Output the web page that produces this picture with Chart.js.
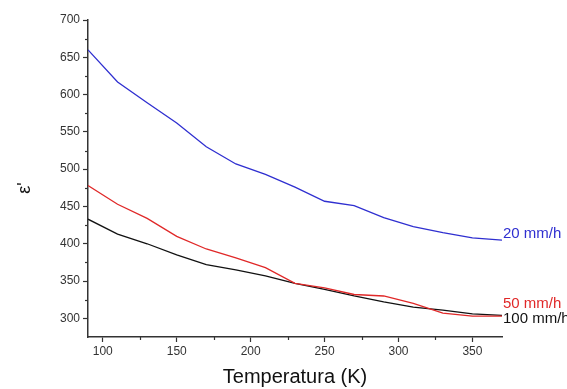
<!DOCTYPE html>
<html><head><meta charset="utf-8">
<script src="https://cdn.jsdelivr.net/npm/chart.js@4"></script>
<style>html,body{margin:0;padding:0;background:#fff;overflow:hidden}#w{width:567px;height:389px}</style>
</head><body><div id="w"><canvas id="c"></canvas></div>
<script>
const temps = [90,110,130,150,170,190,210,230,250,270,290,310,330,350,370];
const eps20  = [660,617,589,562,530,507,493,476,457,451,435,423,415,408,405];
const eps50  = [478,453,434,410,393,381,368,347,341,332,330,320,307,303,303];
const eps100 = [433,413,400,385,372,365,357,347,339,330,322,315,311,306,304];
const seriesNames = ['20 mm/h','50 mm/h','100 mm/h'];
const xMajor = [100,150,200,250,300,350];
const xMinor = [125,175,225,275,325];
const yMajor = [300,350,400,450,500,550,600,650,700];
const yMinor = [325,375,425,475,525,575,625,675];
const yTitle = "ε'";
const colors = ['#2f2fd0','#e02828','#111111'];
const labelOffsets = [-6,-12,3];
const FONT = '"Liberation Sans", Arial, sans-serif';

function pts(arr){return temps.map((t,i)=>({x:t,y:arr[i]}));}

const extras = {
  id:'extras',
  afterDraw(chart){
    const ctx=chart.ctx, xs=chart.scales.x, ys=chart.scales.y, a=chart.chartArea;
    ctx.save();
    ctx.strokeStyle='#333'; ctx.lineWidth=1.2;
    xMinor.forEach(v=>{const p=Math.round(xs.getPixelForValue(v))+0.5;ctx.beginPath();ctx.moveTo(p,a.bottom);ctx.lineTo(p,a.bottom+3);ctx.stroke();});
    yMinor.forEach(v=>{const p=Math.round(ys.getPixelForValue(v))+0.5;ctx.beginPath();ctx.moveTo(a.left,p);ctx.lineTo(a.left-3,p);ctx.stroke();});
    ctx.font='15px '+FONT;
    ctx.textBaseline='middle'; ctx.textAlign='left';
    chart.data.datasets.forEach((ds,i)=>{
      const last=ds.data[ds.data.length-1];
      ctx.fillStyle=colors[i];
      ctx.fillText(seriesNames[i], xs.getPixelForValue(last.x)+1, ys.getPixelForValue(last.y)+labelOffsets[i]);
    });
    // y axis title
    ctx.translate(25, 188);
    ctx.rotate(-Math.PI/2);
    ctx.textAlign='center';
    ctx.fillStyle='#111';
    ctx.font='18px '+FONT;
    ctx.fillText(yTitle,0,0);
    ctx.restore();
  }
};

new Chart(document.getElementById('c'),{
  type:'line',
  data:{datasets:[
    {label:seriesNames[0],data:pts(eps20),borderColor:colors[0]},
    {label:seriesNames[1],data:pts(eps50),borderColor:colors[1]},
    {label:seriesNames[2],data:pts(eps100),borderColor:colors[2]}
  ]},
  options:{
    responsive:true,maintainAspectRatio:false,animation:false,
    layout:{padding:{top:20,right:65,left:0,bottom:0}},
    elements:{point:{radius:0},line:{borderWidth:1.3,tension:0}},
    plugins:{legend:{display:false},tooltip:{enabled:false}},
    scales:{
      x:{type:'linear',min:90,max:370,
        afterBuildTicks(s){s.ticks=xMajor.map(v=>({value:v}));},
        afterFit(s){s.height=52;},
        border:{color:'#333',width:1.5},
        grid:{drawOnChartArea:false,drawTicks:true,tickLength:5,tickColor:'#333',tickWidth:1.2},
        ticks:{color:'#333',font:{family:FONT,size:12},padding:2,maxRotation:0},
        title:{display:true,text:'Temperatura (K)',color:'#111',font:{family:FONT,size:20},padding:{top:3,bottom:0}}
      },
      y:{type:'linear',min:275,max:700,
        afterBuildTicks(s){s.ticks=yMajor.map(v=>({value:v}));},
        afterFit(s){s.width=88;},
        border:{color:'#333',width:1.5},
        grid:{drawOnChartArea:false,drawTicks:true,tickLength:5,tickColor:'#333',tickWidth:1.2},
        ticks:{color:'#333',font:{family:FONT,size:12},padding:3}
      }
    }
  },
  plugins:[extras]
});
</script></body></html>
